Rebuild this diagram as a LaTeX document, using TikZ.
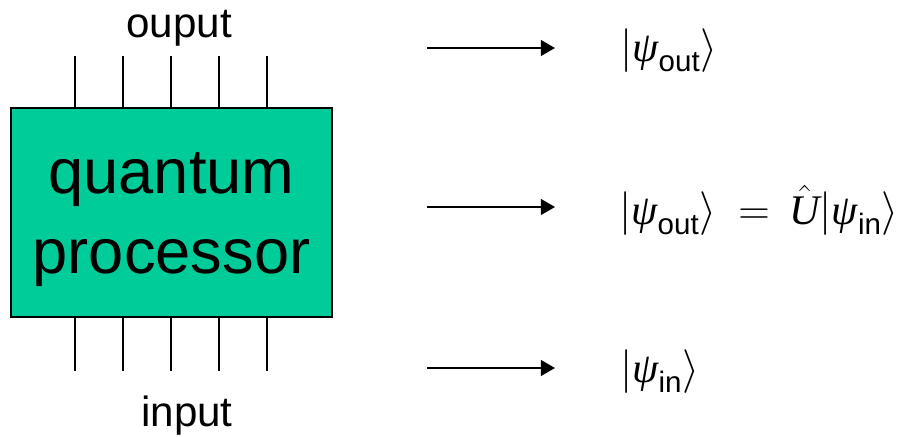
\documentclass[tikz,border=0pt]{standalone}
\usepackage{amsmath}
\usepackage{fontspec}
\setmainfont{Liberation Sans}
\newfontfamily\psifont{Liberation Serif}
\usepackage{xcolor}
\usetikzlibrary{arrows.meta,positioning}
\definecolor{procgreen}{RGB}{0,204,153}
\newcommand{\qpsi}{\text{\psifont\itshape ψ}}
\newcommand{\qop}{\hat{\text{\psifont\itshape U}}}

\begin{document}
\begin{tikzpicture}[x=0.02cm, y=-0.02cm,
    wire/.style={line width=0.85pt},
    mapto/.style={line width=0.85pt, -{Triangle[length=8pt,width=9pt]}},
    state/.style={anchor=base west, inner sep=0pt, font=\fontsize{24}{28}\selectfont}]
    \useasboundingbox (0,0) rectangle (898,436);

    % Processeur
    \node[draw, line width=1pt, fill=procgreen, minimum width=6.42cm, minimum height=4.18cm] (proc) at (171.5,212.5) {};
    \node[align=center, font=\fontsize{36}{45.5}\selectfont] (proclbl) at ([yshift=-4pt]proc.center) {quantum\\processor};

    % Fils de sortie et d'entree
    \foreach \x in {75,123,171,219,267} {
        \draw[wire] (\x,56) -- (\x,108);
        \draw[wire] (\x,317) -- (\x,371);
    }
    \node[font=\fontsize{24}{28}\selectfont, anchor=base] (outlbl) at (179,37) {ouput};
    \node[font=\fontsize{24}{28}\selectfont, anchor=base] (inlbl) at (187,426) {input};

    % Fleches
    \coordinate (a1) at (427,48);  \coordinate (b1) at (555,48);
    \coordinate (a2) at (427,207); \coordinate (b2) at (555,207);
    \coordinate (a3) at (427,368); \coordinate (b3) at (555,368);
    \draw[mapto] (a1) -- (b1);
    \draw[mapto] (a2) -- (b2);
    \draw[mapto] (a3) -- (b3);

    % Etats
    \node[state] (sout) at (620,61) {$|\qpsi_{\text{out}}\rangle$};
    \node[state] (smid) at (619,224) {$|\qpsi_{\text{out}}\rangle\:=\,\qop|\qpsi_{\text{in}}\rangle$};
    \node[state] (sin) at (620,382) {$|\qpsi_{\text{in}}\rangle$};
\end{tikzpicture}
\end{document}
